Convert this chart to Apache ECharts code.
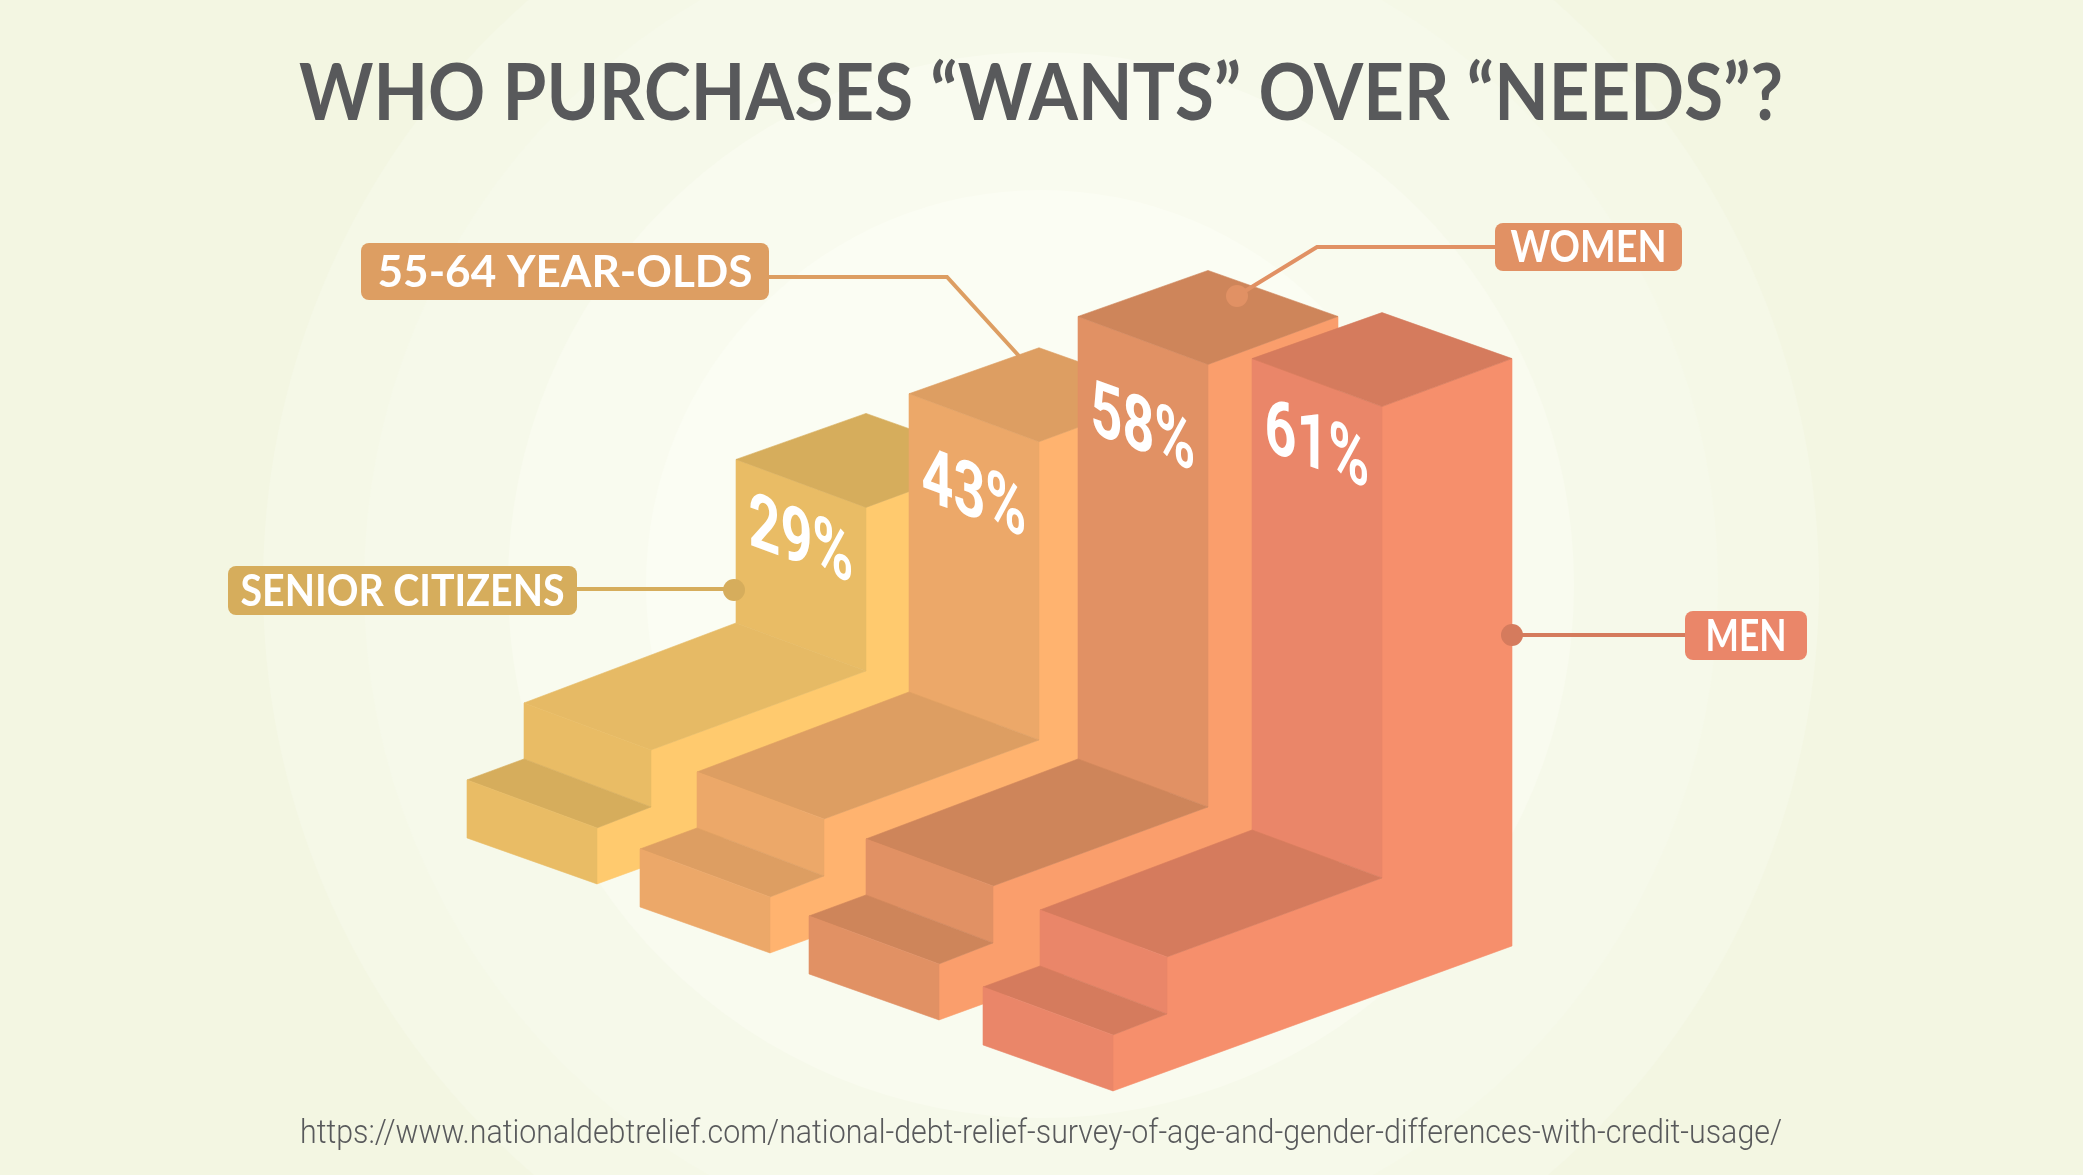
<!DOCTYPE html>
<html>
<head>
<meta charset="utf-8">
<style>html,body{margin:0;padding:0;background:#f3f6e2}#c{width:2083px;height:1175px}</style>
<script src="https://cdn.jsdelivr.net/npm/echarts@6/dist/echarts.min.js"></script>
</head>
<body>
<div id="c"></div>
<script>
const titleText = 'WHO PURCHASES “WANTS” OVER “NEEDS”?';
const sourceText = 'https://www.nationaldebtrelief.com/national-debt-relief-survey-of-age-and-gender-differences-with-credit-usage/';
const categories = ['SENIOR CITIZENS', '55-64 YEAR-OLDS', 'WOMEN', 'MEN'];
const values = [29, 43, 58, 61];

// styling
const topColors = ['#D6AD5C', '#DD9E62', '#CE855A', '#D57B5D'];
const treadColors = ['#E6BA65', '#DD9E62', '#CE855A', '#D57B5D'];
const leftColors = ['#E9BC65', '#ECA869', '#E19164', '#EA8669'];
const rightColors = ['#FFCA6E', '#FFB36F', '#FA9E6C', '#F68F6C'];
const lowTreadColors = ['#D6AD5C', '#DD9E62', '#CE855A', '#D57B5D'];
const tagColors = ['#D6AD5C', '#DD9E62', '#E19164', '#EA8669'];
const dotColors = ['#D6AD5C', '#DD9E62', '#E19164', '#D57B5D'];
const labelDy = [85, 105, 116, 91];
const rowNudgeX = [0, 1, -2, 0];
const rowNudgeY = [0, 0, -2, 0];

const FLOOR_VALUE = 12;    // value at which every wall meets its tread
const ROW_DROP = 69;       // each row sits lower on the page
const SLOPE = 48 / 130;    // isometric slope of wall edges

const FONT = 'Lato, "Open Sans", sans-serif';
const measureCtx = document.createElement('canvas').getContext('2d');
function fitScale(text, font, width) {
  measureCtx.font = font;
  return width / measureCtx.measureText(text).width;
}

function poly(points, fill) {
  return {
    type: 'polygon',
    shape: { points: points },
    style: { fill: fill, stroke: fill, lineWidth: 0.6 }
  };
}

function renderStair(params, api) {
  const i = api.value(0);
  const v = api.value(1);
  const base = api.coord([i, FLOOR_VALUE]);
  const h = base[1] - api.coord([i, v])[1];
  const ox = base[0] + rowNudgeX[i];
  const oy = base[1] + i * ROW_DROP + rowNudgeY[i];
  const p = (dx, dy) => [ox + dx, oy + dy];
  const children = [
    // right-hand side profile
    poly([p(130, 48 - h), p(260, -h), p(260, 116), p(-139, 261), p(-139, 205),
          p(-85, 184), p(-85, 127), p(130, 48)], rightColors[i]),
    // wall
    poly([p(0, -h), p(130, 48 - h), p(130, 48), p(0, 0)], leftColors[i]),
    // roof
    poly([p(0, -h), p(130, -h - 46), p(260, -h), p(130, 48 - h)], topColors[i]),
    // upper tread
    poly([p(-212, 80), p(0, 0), p(130, 48), p(-85, 127)], treadColors[i]),
    // riser
    poly([p(-212, 80), p(-85, 127), p(-85, 184), p(-212, 136)], leftColors[i]),
    // lower tread
    poly([p(-269, 157), p(-212, 136), p(-85, 184), p(-139, 205)], lowTreadColors[i]),
    // lower front
    poly([p(-269, 157), p(-139, 205), p(-139, 261), p(-269, 215)], leftColors[i]),
    // value label on the wall
    {
      type: 'text',
      x: ox + 65,
      y: oy - h + labelDy[i],
      rotation: -Math.atan(SLOPE),
      z2: 50,
      style: {
        text: v + '%',
        x: 0, y: 0,
        fill: '#FFFFFF',
        font: '700 72px Roboto, sans-serif',
        align: 'center',
        verticalAlign: 'middle'
      }
    }
  ];
  return { type: 'group', children: children };
}

function centeredText(text, cx, cy, fontWeight, fontSize, family, width, fill, z) {
  const font = fontWeight + ' ' + fontSize + 'px ' + family;
  return {
    type: 'text', x: cx, y: cy, scaleX: fitScale(text, font, width), z: z,
    style: { text: text, x: 0, y: 0, font: font, fill: fill, align: 'center', verticalAlign: 'middle' }
  };
}

function tag(i, x0, x1, y0, y1, textW, linePts, dot) {
  const els = [];
  els.push({ type: 'polyline', z: 20, shape: { points: linePts },
             style: { stroke: tagColors[i] === '#EA8669' ? '#D57B5D' : tagColors[i], lineWidth: 4, fill: null } });
  if (dot) {
    els.push({ type: 'circle', z: 21, shape: { cx: dot[0], cy: dot[1], r: 11 }, style: { fill: dotColors[i] } });
  }
  els.push({ type: 'rect', z: 22, shape: { x: x0, y: y0, width: x1 - x0, height: y1 - y0, r: 8 },
             style: { fill: tagColors[i] } });
  els.push(centeredText(categories[i], (x0 + x1) / 2, (y0 + y1) / 2 + 1, 700, 44, FONT, textW, '#FFFFFF', 23));
  return els;
}

const rings = [
  [778, '#F5F8E7'],
  [677, '#F6F9EA'],
  [533, '#F9FBEF'],
  [395, '#FBFDF3']
];

const graphicElements = [].concat(
  rings.map(r => ({ type: 'circle', z: -10, silent: true,
    shape: { cx: 1041, cy: 585, r: r[0] }, style: { fill: r[1] } })),
  [
    centeredText(titleText, 1041, 95, 700, 78, FONT, 1484, '#58595B', 30),
    centeredText(sourceText, 1041, 1135, 300, 33, 'Roboto, sans-serif', 1482, '#58595B', 30)
  ],
  tag(0, 228, 577, 566, 615, 324, [[577, 589], [734, 589]], [734, 590]),
  tag(1, 361, 769, 243, 300, 375, [[769, 277], [947, 277], [1019, 356]], null),
  tag(2, 1495, 1682, 223, 271, 156, [[1495, 247], [1317, 247], [1237, 296]], [1237, 296]),
  tag(3, 1685, 1807, 611, 660, 81, [[1685, 635], [1512, 635]], [1512, 635])
);

const chart = echarts.init(document.getElementById('c'), null, { renderer: 'canvas' });
chart.setOption({
  animation: false,
  backgroundColor: '#F3F6E2',
  graphic: { elements: graphicElements },
  grid: { left: 650, width: 688, top: 65, height: 673.4, containLabel: false },
  xAxis: { type: 'category', data: categories, show: false },
  yAxis: { type: 'value', min: 0, max: 70, show: false },
  tooltip: { show: false },
  series: [{
    type: 'custom',
    clip: false,
    silent: true,
    renderItem: renderStair,
    encode: { x: 0, y: 1 },
    data: values.map((v, i) => [i, v])
  }]
});

// The percent labels lie on the slanted walls: shear them to the wall slope.
function shearLabels() {
  const zr = chart.getZr();
  const list = zr.storage.getDisplayList(true);
  list.forEach(el => {
    if (el.style && typeof el.style.text === 'string' && /^\d+%$/.test(el.style.text)) {
      el.rotation = 0;
      el.skewY = 0;
      el.skewX = Math.atan(SLOPE);
      el.scaleX = fitScale(el.style.text, el.style.font, 112);
      el.markRedraw();
    }
  });
  zr.refresh();
}
shearLabels();
chart.on('finished', shearLabels);
</script>
</body>
</html>
